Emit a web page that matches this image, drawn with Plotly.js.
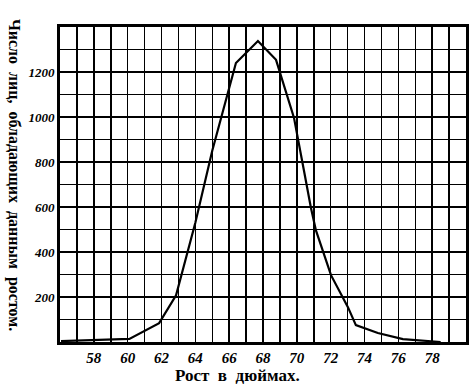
<!DOCTYPE html>
<html>
<head>
<meta charset="utf-8">
<script src="https://cdn.plot.ly/plotly-3.0.1.min.js"></script>
<style>html,body{margin:0;padding:0;background:#fff;}#chart{width:473px;height:386px;}</style>
</head>
<body>
<div id="chart"></div>
<script>
// Height in inches (x) and number of persons (y)
const heights = [56.06, 58, 60.1, 61.86, 62.86, 64, 65, 66.4, 67.7, 68.77, 69.83, 70.42, 70.83, 71.13, 72.02, 73.02, 73.49, 74.79, 76.27, 78.5];
const counts  = [4, 9, 14, 84, 208, 530, 850, 1240, 1338, 1254, 997, 762, 598, 496, 297, 155, 75, 40, 13, 0];

const xTickVals = [58, 60, 62, 64, 66, 68, 70, 72, 74, 76, 78];
const xTickText = ['58', '60', '62', '64', '66', '68', '70', '72', '74', '76', '78'];
const yTickVals = [200, 400, 600, 800, 1000, 1200];
const yTickText = ['200', '400', '600', '800', '1000', '1200'];

const xTitle = 'Рост  в  дюймах.';
const yTitle = 'Число  лиц,  обладающих  данным  ростом.';

const serif = 'Liberation Serif, DejaVu Serif, serif';

const trace = {
  x: heights, y: counts, type: 'scatter', mode: 'lines',
  line: {color: '#000', width: 2.2}, hoverinfo: 'skip'
};

const layout = {
  width: 473, height: 386,
  margin: {l: 60, r: 7, t: 27, b: 44},
  paper_bgcolor: '#fff', plot_bgcolor: '#fff',
  showlegend: false,
  font: {family: serif, size: 14, color: '#000'},
  xaxis: {
    showline: true, mirror: true, linecolor: '#000', linewidth: 3,
    showgrid: true, gridcolor: '#000', gridwidth: 1.5,
    zeroline: false, ticks: '', fixedrange: true,
    range: [56, 80], tickmode: 'array', tickvals: xTickVals, ticktext: xTickText,
    tickfont: {family: serif, size: 15, color: '#000', weight: 'bold', style: 'italic'},
    minor: {dtick: 1, tick0: 56, showgrid: true, gridcolor: '#000', gridwidth: 1.5, ticks: ''}
  },
  yaxis: {
    showline: true, mirror: true, linecolor: '#000', linewidth: 3,
    showgrid: true, gridcolor: '#000', gridwidth: 1.5,
    zeroline: false, ticks: '', fixedrange: true,
    range: [0, 1400], tickmode: 'array', tickvals: yTickVals, ticktext: yTickText,
    tickfont: {family: serif, size: 13, color: '#000', weight: 'bold', style: 'italic'},
    minor: {dtick: 100, tick0: 0, showgrid: true, gridcolor: '#000', gridwidth: 1.5, ticks: ''}
  },
  annotations: [{
    text: yTitle, textangle: 90, showarrow: false,
    xref: 'paper', yref: 'paper', x: -0.113, y: 0.53, xanchor: 'center', yanchor: 'middle',
    font: {family: serif, size: 16, color: '#000', weight: 'bold'}
  }, {
    text: xTitle, showarrow: false,
    xref: 'paper', yref: 'paper', x: 0.438, y: -0.105, xanchor: 'center', yanchor: 'middle',
    font: {family: serif, size: 17, color: '#000', weight: 'bold'}
  }]
};

Plotly.newPlot('chart', [trace], layout, {staticPlot: true, displayModeBar: false});
</script>
</body>
</html>
